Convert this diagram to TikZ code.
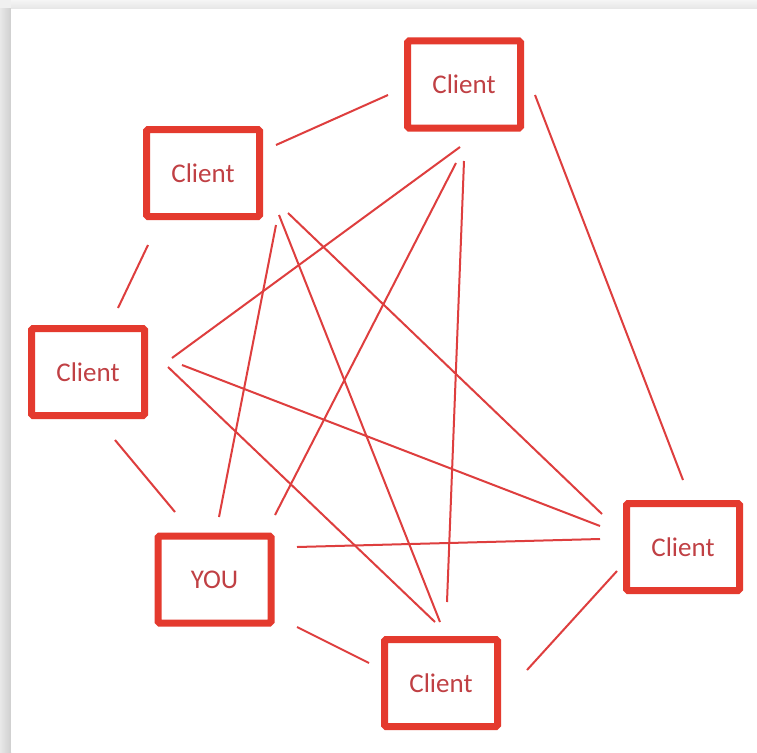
\documentclass[tikz,border=0pt]{standalone}
\usepackage{fontspec}
\setmainfont{Carlito}
\usetikzlibrary{calc}
\definecolor{boxred}{RGB}{228,58,46}
\definecolor{linered}{RGB}{222,62,62}
\definecolor{textred}{RGB}{192,64,68}
\tikzset{
  peer/.style={draw=boxred, line width=7pt, rounded corners=1.5pt,
    minimum width=113pt, minimum height=87pt, inner sep=0pt,
    text=textred, font=\fontsize{27}{30}\selectfont},
  link/.style={draw=linered, line width=2pt}
}
\begin{document}
\begin{tikzpicture}[x=1pt,y=-1pt]
  \useasboundingbox (0,0) rectangle (757,752);
  % page backdrop with its soft edge shadow
  \fill[gray!12] (0,0) rectangle (757,752);
  \shade[left color=gray!18, right color=gray!38] (0,9) rectangle (11,752);
  \shade[top color=gray!8, bottom color=gray!20] (11,0) rectangle (757,9);
  \fill[white] (11,9) rectangle (757,752);

  % peers
  \node[peer] (C1) at (464,84.5) {Client};
  \node[peer] (C2) at (203,173) {Client};
  \node[peer] (C3) at (88,372) {Client};
  \node[peer] (YOU) at (214.5,579.5) {YOU};
  \node[peer] (C5) at (441,683) {Client};
  \node[peer] (C6) at (683,547) {Client};

  % full mesh of connections
  \draw[link] ($(C2)+(73,-28)$) -- ($(C1)+(-76,10.5)$);
  \draw[link] ($(C1)+(71,10.5)$) -- ($(C6)+(0,-67)$);
  \draw[link] ($(C2)+(-55,72)$) -- ($(C3)+(30,-64)$);
  \draw[link] ($(C3)+(27,68)$) -- ($(YOU)+(-39.5,-67.5)$);
  \draw[link] ($(YOU)+(82.5,47.5)$) -- ($(C5)+(-72,-20)$);
  \draw[link] ($(C5)+(86,-13)$) -- ($(C6)+(-66,24)$);
  \draw[link] ($(C1)+(-4,62.5)$) -- ($(C3)+(84,-14)$);
  \draw[link] ($(C1)+(-8,78.5)$) -- ($(YOU)+(60.5,-64.5)$);
  \draw[link] ($(C1)+(0,76.5)$) -- ($(C5)+(6,-81)$);
  \draw[link] ($(C2)+(73,52)$) -- ($(YOU)+(4.5,-62.5)$);
  \draw[link] ($(C2)+(76,42)$) -- ($(C5)+(-1,-61)$);
  \draw[link] ($(C2)+(85,40)$) -- ($(C6)+(-81,-33)$);
  \draw[link] ($(C3)+(80,-5)$) -- ($(C5)+(-6,-61)$);
  \draw[link] ($(C3)+(94,-7)$) -- ($(C6)+(-83,-21)$);
  \draw[link] ($(YOU)+(82.5,-32.5)$) -- ($(C6)+(-83,-8)$);
\end{tikzpicture}
\end{document}
